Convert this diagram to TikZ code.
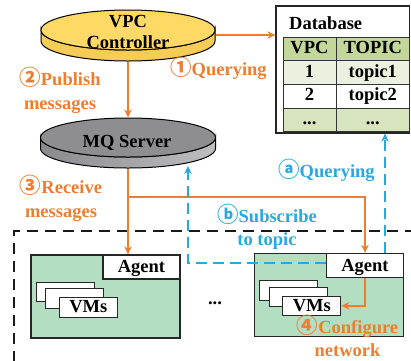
\documentclass[tikz,border=0pt]{standalone}
\usepackage{fontspec}
\setmainfont{Liberation Serif}
\newfontfamily\circfont{Noto Sans CJK SC}
\usetikzlibrary{shapes.geometric,arrows.meta,calc}
\definecolor{orng}{HTML}{ED7D31}
\definecolor{sky}{HTML}{29A8E0}
\definecolor{hostgreen}{HTML}{B3DEC1}
\definecolor{hdr}{HTML}{C4D79B}
\definecolor{rowa}{HTML}{EBF1DE}
\definecolor{rowc}{HTML}{D7E4BD}
\definecolor{gold}{HTML}{FFD966}
\definecolor{goldside}{HTML}{F5CC55}
\definecolor{mqtop}{HTML}{8E8E91}
\definecolor{mqside}{HTML}{A3A3A6}
\newcommand{\cnum}[1]{{\circfont\fontsize{21.5}{23.5}\selectfont #1}}
\begin{document}
\begin{tikzpicture}[x=1pt,y=-1pt,
  font=\fontsize{18.5}{23.5}\selectfont\bfseries,
  disc/.style={ellipse, draw=black, line width=1pt, inner sep=0pt},
  lbl/.style={align=center, inner sep=0pt, anchor=base},
  olbl/.style={lbl, text=orng},
  blbl/.style={lbl, text=sky},
  oarrow/.style={draw=orng, line width=1.5pt, -{Stealth[length=8pt,width=7.5pt]}},
  barrow/.style={draw=sky, line width=1.3pt, dash pattern=on 11pt off 6pt, -{Stealth[length=8pt,width=7.5pt]}},
  hostbox/.style={draw=black!85, line width=1.3pt, fill=hostgreen, minimum width=149pt, minimum height=83pt, inner sep=0pt},
  agentbox/.style={draw=black!85, fill=white, line width=1.3pt, minimum width=77pt, minimum height=24pt, inner sep=0pt, text height=12.5pt, text depth=1.5pt},
  vmbox/.style={draw=black!85, fill=white, line width=1.1pt, minimum width=58pt, minimum height=19.5pt, inner sep=0pt, text height=12.5pt, text depth=1.5pt},
  cell/.style={draw=black!80, line width=1pt, minimum height=23.75pt, inner sep=0pt, text height=12.5pt, text depth=3.5pt},
  framebox/.style={draw=black!90, line width=1.7pt, dash pattern=on 11pt off 7pt}
]
\useasboundingbox (0,0) rectangle (411,360);
\clip (0,0) rectangle (411,360);

% VPC controller disc
\path[fill=goldside, draw=black, line width=1pt] (41,30) -- (41,41)
  arc[start angle=180, end angle=0, x radius=87, y radius=20] -- (215,30)
  arc[start angle=0, end angle=180, x radius=87, y radius=20] -- cycle;
\node[disc, fill=gold, minimum width=174pt, minimum height=40pt] (vpc) at (128,30) {};
\node[inner sep=0pt, align=center, font=\fontsize{18.5}{21}\selectfont\bfseries] (vpctext) at (128,31.5) {VPC\\Controller};

% MQ server disc
\path[left color=mqside!85!black, right color=mqside!70!white, draw=black, line width=1pt] (40.5,137.5) -- (40.5,148.5)
  arc[start angle=180, end angle=0, x radius=87.5, y radius=19.5] -- (215.5,137.5)
  arc[start angle=0, end angle=180, x radius=87.5, y radius=19.5] -- cycle;
\node[disc, fill=mqtop, minimum width=175pt, minimum height=39pt] (mq) at (128,137.5) {};
\node[inner sep=0pt, anchor=base] (mqtext) at (127,147) {MQ Server};

% Database
\node[draw=black!85, line width=1.2pt, fill=white, minimum width=133.5pt, minimum height=127pt, inner sep=0pt] (db) at (342.75,69.5) {};
\node[inner sep=0pt, anchor=base west] (dbtitle) at (289,29) {Database};
\node[cell, fill=hdr, minimum width=53pt] (c11) at (309.5,48.9) {VPC};
\node[cell, fill=hdr, minimum width=73.5pt] (c12) at (372.75,48.9) {TOPIC};
\node[cell, fill=rowa, minimum width=53pt] (c21) at (309.5,72.6) {1};
\node[cell, fill=rowa, minimum width=73.5pt] (c22) at (372.75,72.6) {topic1};
\node[cell, fill=white, minimum width=53pt] (c31) at (309.5,96.4) {2};
\node[cell, fill=white, minimum width=73.5pt] (c32) at (372.75,96.4) {topic2};
\node[cell, fill=rowc, minimum width=53pt] (c41) at (309.5,120.1) {...};
\node[cell, fill=rowc, minimum width=73.5pt] (c42) at (372.75,120.1) {...};

% dashed frame
\draw[framebox] (14,380) -- (14,231) -- (430,231);

% hosts
\node[hostbox] (lhost) at (105.5,296.5) {};
\node[agentbox, anchor=north east] (lagent) at (lhost.north east) {Agent};
\node[vmbox] (lvm1) at ($(lhost.north west)+(35,37.5)$) {};
\node[vmbox] (lvm2) at ($(lhost.north west)+(44.5,44)$) {};
\node[vmbox] (lvm3) at ($(lhost.north west)+(58,53)$) {VMs};

\node[hostbox] (rhost) at (329,295) {};
\node[agentbox, anchor=north east] (ragent) at (rhost.north east) {Agent};
\node[vmbox] (rvm1) at ($(rhost.north west)+(35,37.5)$) {};
\node[vmbox] (rvm2) at ($(rhost.north west)+(44.5,44)$) {};
\node[vmbox] (rvm3) at ($(rhost.north west)+(58,53)$) {VMs};

\node[inner sep=0pt, anchor=base] (dots) at (215,304) {...};

% orange connectors
\draw[oarrow] ([yshift=-5pt]vpc.east) -- ([yshift=-5pt]vpc.east -| db.west);
\draw[oarrow] ([yshift=-11pt]vpc.south) -- (mq.north);
\coordinate (mqbot) at ([yshift=-11pt]mq.south);
\coordinate (branch) at (mqbot |- 0,197);
\draw[oarrow] (mqbot) -- (mqbot |- lagent.north);
\draw[oarrow] (branch) -| (ragent.north);
\draw[oarrow] (ragent.south) |- (rvm3.east);

% blue connectors
\coordinate (mqhit) at (188,166);
\draw[barrow] ([yshift=2.5pt]ragent.west) -| (mqhit);
\draw[barrow] ([xshift=20pt]ragent.north) -- ([xshift=20pt]ragent.north |- db.south);

% labels (base anchor = baseline of last line)
\node[olbl] (lpub) at (60,109) {\cnum{②}Publish\\messages};
\node[olbl, anchor=base west] (lq1) at (170,75) {\cnum{①}Querying};
\node[olbl] (lrec) at (61,217) {\cnum{③}Receive\\messages};
\node[blbl, anchor=base west] (lqa) at (278,177) {\cnum{ⓐ}Querying};
\node[blbl] (lsub) at (267,245.5) {\cnum{ⓑ}Subscribe\\to topic};
\node[olbl] (lconf) at (347.5,356.5) {\cnum{④}Configure\\network};
\end{tikzpicture}
\end{document}
